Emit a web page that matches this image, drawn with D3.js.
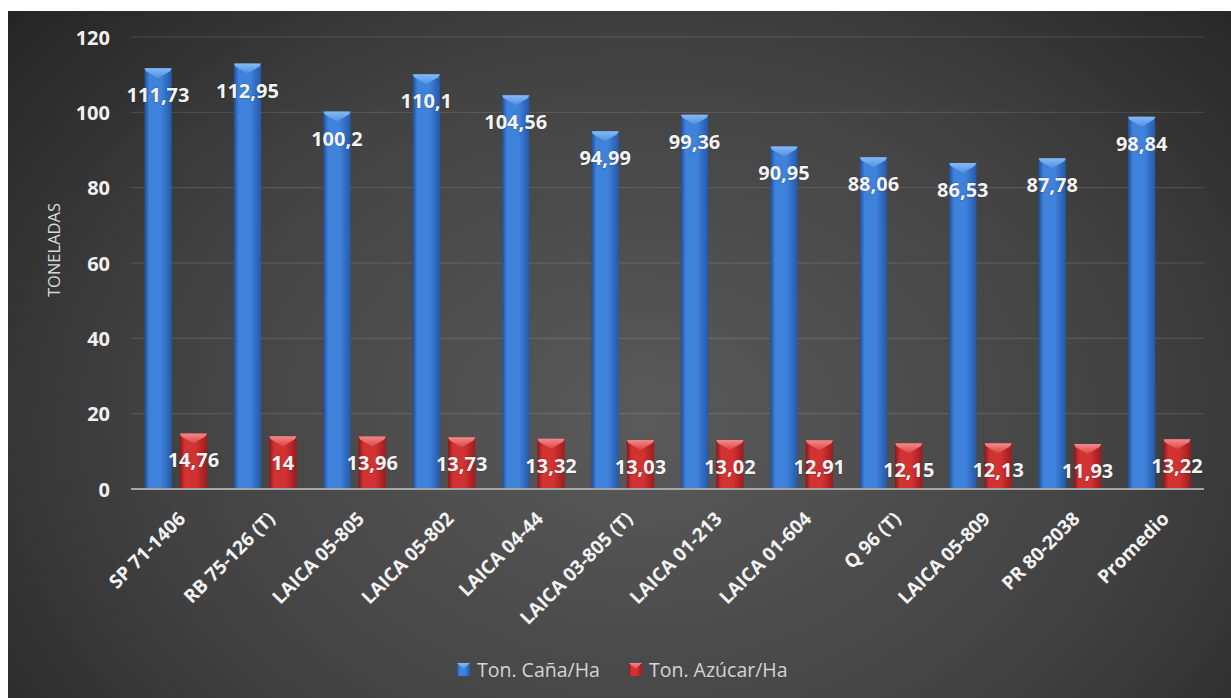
<!DOCTYPE html>
<html>
<head>
<meta charset="utf-8">
<script src="https://cdn.jsdelivr.net/npm/d3@7"></script>
<style>
  html, body { margin: 0; padding: 0; background: #ffffff; }
  svg { display: block; }
</style>
</head>
<body>
<svg id="chart" width="1231" height="698"></svg>
<script>
const categories = ["SP 71-1406", "RB 75-126 (T)", "LAICA 05-805", "LAICA 05-802", "LAICA 04-44",
  "LAICA 03-805 (T)", "LAICA 01-213", "LAICA 01-604", "Q 96 (T)", "LAICA 05-809", "PR 80-2038", "Promedio"];
const canaValues = [111.73, 112.95, 100.2, 110.1, 104.56, 94.99, 99.36, 90.95, 88.06, 86.53, 87.78, 98.84];
const azucarValues = [14.76, 14, 13.96, 13.73, 13.32, 13.03, 13.02, 12.91, 12.15, 12.13, 11.93, 13.22];
const seriesNames = ["Ton. Caña/Ha", "Ton. Azúcar/Ha"];
const yTicks = [0, 20, 40, 60, 80, 100, 120];
const yTitle = "TONELADAS";

const svg = d3.select("#chart");
const defs = svg.append("defs");

// background
const bg = defs.append("radialGradient").attr("id", "bgGrad")
  .attr("cx", "52%").attr("cy", "60%").attr("r", "72%")
  .attr("gradientTransform", "translate(0.52,0.6) scale(1,1.35) translate(-0.52,-0.6)");
bg.append("stop").attr("offset", "0%").attr("stop-color", "#5a5a5a");
bg.append("stop").attr("offset", "55%").attr("stop-color", "#424242");
bg.append("stop").attr("offset", "100%").attr("stop-color", "#212121");
svg.append("rect").attr("x", 8).attr("y", 11).attr("width", 1223).attr("height", 687)
  .attr("fill", "url(#bgGrad)");

const colors = {
  "Ton. Caña/Ha": { edgeL: "#1d4e98", mid: "#3f82dc", edgeR: "#2559a8", top: "#86baf6", topMid: "#4f90e2" },
  "Ton. Azúcar/Ha": { edgeL: "#8a1618", mid: "#d23232", edgeR: "#9c1c1e", top: "#f58a8a", topMid: "#d94646" }
};
seriesNames.forEach((s, i) => {
  const c = colors[s];
  const g = defs.append("linearGradient").attr("id", "barGrad" + i)
    .attr("x1", "0%").attr("x2", "100%").attr("y1", "0%").attr("y2", "0%");
  g.append("stop").attr("offset", "0%").attr("stop-color", c.edgeL);
  g.append("stop").attr("offset", "18%").attr("stop-color", c.mid);
  g.append("stop").attr("offset", "60%").attr("stop-color", c.mid);
  g.append("stop").attr("offset", "100%").attr("stop-color", c.edgeR);
  const t = defs.append("linearGradient").attr("id", "topGrad" + i)
    .attr("x1", "0%").attr("x2", "0%").attr("y1", "0%").attr("y2", "100%");
  t.append("stop").attr("offset", "0%").attr("stop-color", c.top);
  t.append("stop").attr("offset", "100%").attr("stop-color", c.topMid);
});

const plotLeft = 131, plotRight = 1204, plotTop = 37, plotBottom = 489;

const x0 = d3.scaleBand().domain(categories).range([plotLeft, plotRight])
  .paddingInner(0.3).paddingOuter(0.15);
const x1 = d3.scaleBand().domain(seriesNames).range([0, x0.bandwidth()]).paddingInner(0.23);
const y = d3.scaleLinear().domain([0, 120]).range([plotBottom, plotTop]);

// gridlines
svg.append("g").selectAll("line").data(yTicks.filter(t => t > 0)).join("line")
  .attr("x1", plotLeft).attr("x2", plotRight)
  .attr("y1", d => y(d)).attr("y2", d => y(d))
  .attr("stroke", "#ffffff").attr("stroke-opacity", 0.14).attr("stroke-width", 1);

// y axis labels
const yAxis = d3.axisLeft(y).tickValues(yTicks).tickSize(0).tickPadding(0).tickFormat(d3.format("d"));
const yg = svg.append("g").attr("transform", "translate(110,0)").call(yAxis);
yg.select(".domain").remove();
yg.selectAll("text").attr("font-family", "'Open Sans', sans-serif").attr("font-weight", "bold")
  .attr("font-size", 20).attr("fill", "#f0f0f0").attr("dy", "0.35em");

// y title
svg.append("text").attr("transform", "translate(60,250) rotate(-90)")
  .attr("text-anchor", "middle").attr("font-family", "'Open Sans', sans-serif")
  .attr("font-size", 16.5).attr("fill", "#d9d9d9").text(yTitle);

// data rows
const rows = categories.map((c, i) => ({ cat: c, vals: [canaValues[i], azucarValues[i]] }));

const groups = svg.append("g").selectAll("g").data(rows).join("g")
  .attr("transform", d => `translate(${x0(d.cat)},0)`);

const bars = groups.selectAll("g.bar").data(d => d.vals.map((v, i) => ({ s: seriesNames[i], i, v })))
  .join("g").attr("class", "bar");

bars.append("rect")
  .attr("x", d => x1(d.s)).attr("width", x1.bandwidth())
  .attr("y", d => y(d.v)).attr("height", d => y(0) - y(d.v))
  .attr("fill", d => `url(#barGrad${d.i})`);

// bevelled top
bars.append("path")
  .attr("d", d => {
    const xa = x1(d.s), xb = xa + x1.bandwidth(), xm = (xa + xb) / 2, t = y(d.v);
    return `M${xa},${t} L${xb},${t} L${xb - 1.5},${t + 3} L${xm},${t + 10} L${xa + 1.5},${t + 3} Z`;
  })
  .attr("fill", d => `url(#topGrad${d.i})`);

// data labels
const fmt = v => String(v).replace(".", ",");
bars.append("text")
  .attr("x", d => x1(d.s) + x1.bandwidth() / 2)
  .attr("y", d => y(d.v) + 34)
  .attr("text-anchor", "middle")
  .attr("font-family", "'Open Sans', sans-serif").attr("font-weight", "bold")
  .attr("font-size", 20).attr("fill", "#f4f4f4")
  .style("paint-order", "stroke").attr("stroke", "rgba(0,0,0,0.25)").attr("stroke-width", 1.2)
  .text(d => fmt(d.v));

// zero line
svg.append("line").attr("x1", plotLeft).attr("x2", plotRight)
  .attr("y1", y(0)).attr("y2", y(0))
  .attr("stroke", "#a6a6a6").attr("stroke-width", 2);

// category labels
const xAxis = d3.axisBottom(x0).tickSize(0).tickPadding(0);
const xg = svg.append("g").attr("transform", `translate(0,${plotBottom})`).call(xAxis);
xg.select(".domain").remove();
xg.selectAll(".tick text")
  .attr("transform", "translate(11,31) rotate(-45)")
  .attr("x", 0).attr("y", 0).attr("dy", 0)
  .attr("text-anchor", "end")
  .attr("font-family", "'Open Sans', sans-serif").attr("font-weight", "bold")
  .attr("font-size", 19).attr("fill", "#f2f2f2");

// legend
const legendItems = [
  { name: seriesNames[0], i: 0, mx: 457, tx: 477 },
  { name: seriesNames[1], i: 1, mx: 629, tx: 649 }
];
const lg = svg.append("g").selectAll("g").data(legendItems).join("g");
lg.append("rect").attr("x", d => d.mx).attr("y", 663).attr("width", 13).attr("height", 13)
  .attr("fill", d => `url(#barGrad${d.i})`);
lg.append("path").attr("d", d => `M${d.mx},663 L${d.mx + 13},663 L${d.mx + 6.5},669 Z`)
  .attr("fill", d => `url(#topGrad${d.i})`);
lg.append("text").attr("x", d => d.tx).attr("y", 677)
  .attr("font-family", "'Open Sans', sans-serif").attr("font-size", 19.5)
  .attr("fill", "#d4d4d4").text(d => d.name);
</script>
</body>
</html>
